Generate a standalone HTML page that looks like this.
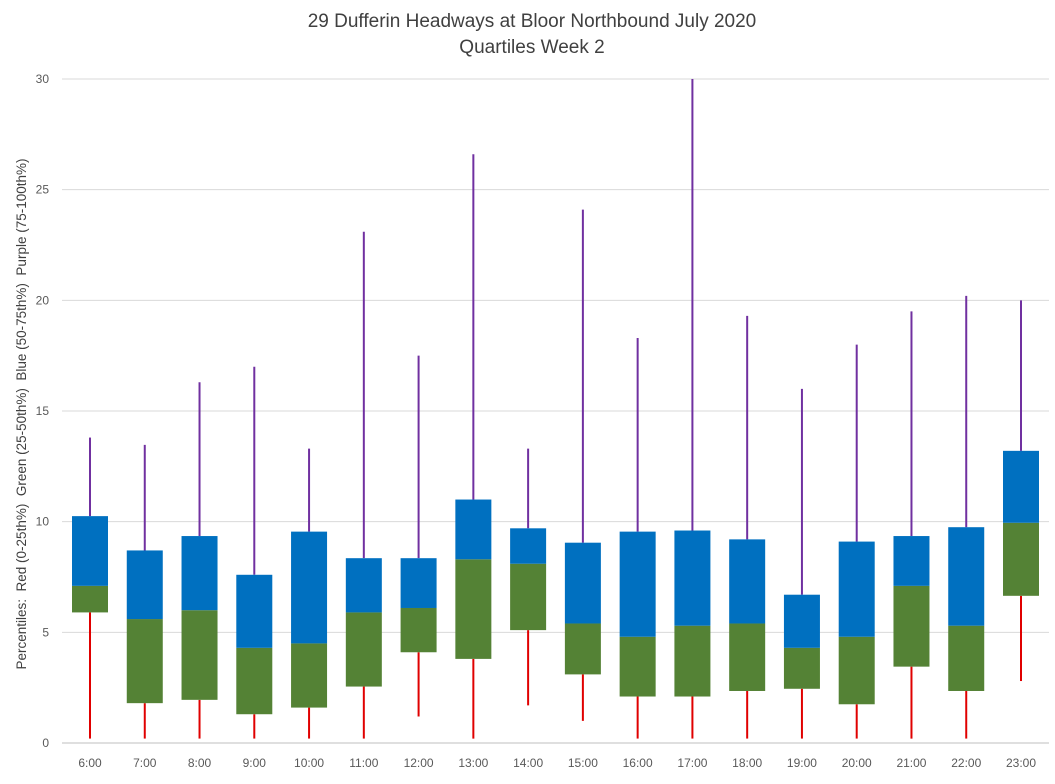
<!DOCTYPE html>
<html><head><meta charset="utf-8"><style>
body{margin:0;background:#fff;font-family:"Liberation Sans",sans-serif;}
svg text{font-family:"Liberation Sans",sans-serif;}
</style></head><body>
<svg id="chart" width="1055" height="779">
<text x="532" y="27" text-anchor="middle" font-size="19" fill="#404040">29 Dufferin Headways at Bloor Northbound July 2020</text>
<text x="532" y="53" text-anchor="middle" font-size="19" fill="#404040">Quartiles Week 2</text>
<text transform="translate(26,414) rotate(-90)" text-anchor="middle" font-size="13.5" fill="#404040" style="white-space:pre" xml:space="preserve">Percentiles:  Red (0-25th%)  Green (25-50th%)  Blue (50-75th%)  Purple (75-100th%)</text>
<g id="grid"></g><g id="marks"></g><g id="labels"></g>
</svg>
<script>
const categories=["6:00","7:00","8:00","9:00","10:00","11:00","12:00","13:00","14:00","15:00","16:00","17:00","18:00","19:00","20:00","21:00","22:00","23:00"];
const minVals=[0.2,0.2,0.2,0.2,0.2,0.2,1.2,0.2,1.7,1.0,0.2,0.2,0.2,0.2,0.2,0.2,0.2,2.8];
const q1Vals=[5.9,1.8,1.95,1.3,1.6,2.55,4.1,3.8,5.1,3.1,2.1,2.1,2.35,2.45,1.75,3.45,2.35,6.65];
const medVals=[7.1,5.6,6.0,4.3,4.5,5.9,6.1,8.3,8.1,5.4,4.8,5.3,5.4,4.3,4.8,7.1,5.3,9.95];
const q3Vals=[10.25,8.7,9.35,7.6,9.55,8.35,8.35,11.0,9.7,9.05,9.55,9.6,9.2,6.7,9.1,9.35,9.75,13.2];
const maxVals=[13.8,13.47,16.3,17.0,13.3,23.1,17.5,26.6,13.3,24.1,18.3,30,19.3,16.0,18.0,19.5,20.2,20.0];
const yTicks=[0,5,10,15,20,25,30];
const NS="http://www.w3.org/2000/svg";
const y=v=>743-v*(664/30);
const x=i=>90+i*(931/17);
function mk(tag,attrs,parent){const e=document.createElementNS(NS,tag);for(const k in attrs)e.setAttribute(k,attrs[k]);document.getElementById(parent).appendChild(e);return e;}
yTicks.forEach(t=>{
  const l=mk('line',{x1:62,x2:1049,y1:y(t),y2:y(t),stroke:t===0?'#bfbfbf':'#d9d9d9','stroke-width':1},'grid');
  
  
  const tx=mk('text',{x:49,y:y(t)+4,'text-anchor':'end','font-size':12,fill:'#595959'},'labels');
  tx.textContent=t;
  
  
});
categories.forEach((c,i)=>{
  const cx=x(i),w=36;
  const lo=mk('line',{x1:cx,x2:cx,y1:y(minVals[i]),y2:y(q1Vals[i]),stroke:'#e00000','stroke-width':2},'marks');
  
  
  const hi=mk('line',{x1:cx,x2:cx,y1:y(maxVals[i]),y2:y(q3Vals[i]),stroke:'#7030a0','stroke-width':2},'marks');
  
  
  const g=mk('rect',{x:cx-w/2,y:y(medVals[i]),width:w,height:y(q1Vals[i])-y(medVals[i]),fill:'#548235'},'marks');
  
  
  const b=mk('rect',{x:cx-w/2,y:y(q3Vals[i]),width:w,height:y(medVals[i])-y(q3Vals[i]),fill:'#0070c0'},'marks');
  
  
  const t=mk('text',{x:cx,y:767,'text-anchor':'middle','font-size':12,fill:'#595959'},'labels');
  t.textContent=c;
  
  
});
</script>
</body></html>
